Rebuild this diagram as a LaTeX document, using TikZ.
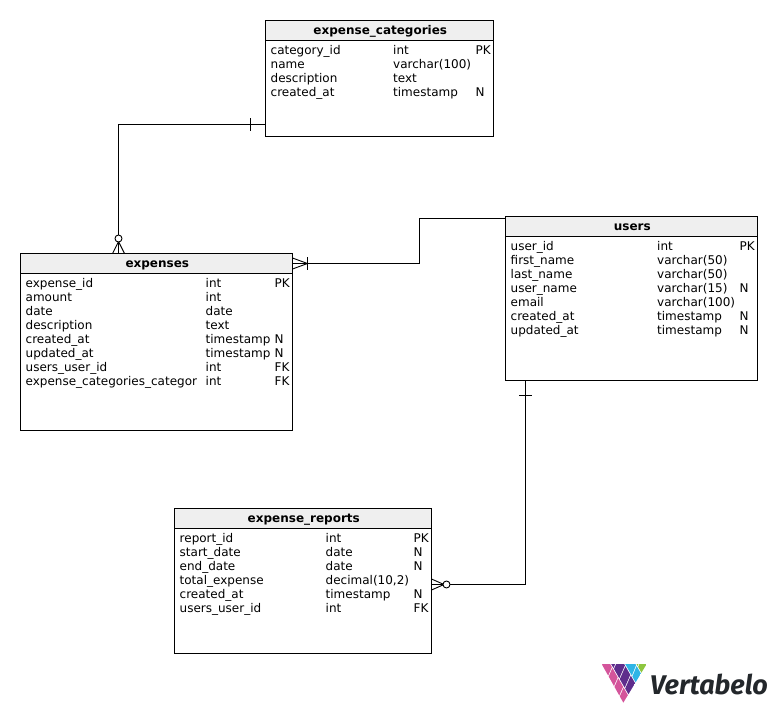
\documentclass[tikz,border=0pt]{standalone}
\usepackage{fontspec}
\setmainfont{DejaVu Sans}
\newfontfamily\logofont{Fira Sans}
\definecolor{headfill}{HTML}{EFEFEF}
\definecolor{vpink}{HTML}{D4559B}
\definecolor{vpurple}{HTML}{5E2D8C}
\definecolor{vcyan}{HTML}{2FB5E6}
\definecolor{vgreen}{HTML}{8DC63F}
\definecolor{vtext}{HTML}{23272B}
\tikzset{
  tablebox/.style={draw=black,line width=1pt,fill=white,inner sep=0pt,outer sep=0pt,anchor=north west},
  tablehead/.style={draw=black,line width=1pt,fill=headfill,inner sep=0pt,outer sep=0pt,anchor=north west,font=\fontsize{12}{14}\selectfont\bfseries},
  headtitle/.style={inner sep=0pt,anchor=base,font=\fontsize{12}{14}\selectfont\bfseries},
  celltext/.style={inner sep=0pt,anchor=base west,font=\fontsize{12}{14}\selectfont,text=black},
  conn/.style={draw=black,line width=1pt},
  notation/.style={draw=black,line width=0.9pt},
  circ/.style={draw=black,line width=0.9pt,fill=white,circle,inner sep=0pt,minimum size=7pt},
}
% name, x0, y0, x1, y1, title, colB x, colC x, rows
\newcommand{\dbtable}[9]{%
  \pgfmathsetmacro{\tw}{#4-#2}\pgfmathsetmacro{\th}{#5-#3}
  \node[tablebox,minimum width=\tw pt,minimum height=\th pt] (#1) at (#2,#3) {};
  \node[tablehead,minimum width=\tw pt,minimum height=20pt] (#1-head) at (#2,#3) {};
  \pgfmathsetmacro{\tx}{(#2+#4)/2+0.8}\pgfmathsetmacro{\ty}{#3+14.3}
  \node[headtitle] (#1-title) at (\tx,\ty) {#6};
  \foreach \ca/\cb/\cc [count=\i] in {#9}{
    \pgfmathsetmacro{\by}{#3+34.3+14*(\i-1)}
    \pgfmathsetmacro{\ax}{#2+5}
    \node[celltext] (#1-a\i) at (\ax,\by) {\ca};
    \node[celltext] (#1-b\i) at (#7,\by) {\cb};
    \node[celltext] (#1-c\i) at (#8,\by) {\cc};
  }
}
% logo lattice: point on lines c,d
\newcommand{\lp}[2]{({#2+0.57*(#1-#2)/1.17},{42+(#1-#2)/1.17})}
\newcommand{\vcell}[5]{\fill[#1] \lp{#2+1.6}{#4+1.6} -- \lp{#3-1.6}{#4+1.6} -- \lp{#3-1.6}{#5-1.6} -- \lp{#2+1.6}{#5-1.6} -- cycle;}
\begin{document}
\begin{tikzpicture}[x=1pt,y=-1pt]
\useasboundingbox (0,0) rectangle (777,713);
\dbtable{cats}{265.5}{20.5}{493.5}{136.5}{expense\_categories}{393}{475.5}{
  category\_id/int/PK, name/varchar(100)/{}, description/text/{}, created\_at/timestamp/N}
\dbtable{exps}{20.5}{253.5}{292.5}{430.5}{expenses}{205.5}{274.5}{
  expense\_id/int/PK, amount/int/{}, date/date/{}, description/text/{},
  created\_at/timestamp/N, updated\_at/timestamp/N, users\_user\_id/int/FK,
  expense\_categories\_categor/int/FK}
\dbtable{users}{505.5}{216.5}{757.5}{380.5}{users}{657}{739.5}{
  user\_id/int/PK, first\_name/varchar(50)/{}, last\_name/varchar(50)/{},
  user\_name/varchar(15)/N, email/varchar(100)/{}, created\_at/timestamp/N,
  updated\_at/timestamp/N}
\dbtable{reps}{174.5}{508.5}{431.5}{653.5}{expense\_reports}{325.5}{413.5}{
  report\_id/int/PK, start\_date/date/N, end\_date/date/N,
  total\_expense/{decimal(10,2)}/{}, created\_at/timestamp/N, users\_user\_id/int/FK}

% connector ends on table edges
\coordinate (cats-w) at (cats.west |- 0,124.5);
\coordinate (exps-n) at (exps.north -| 118.5,0);
\coordinate (users-w) at (users.west |- 0,218.5);
\coordinate (exps-e) at (exps.east |- 0,263.5);
\coordinate (users-s) at (users.south -| 525.5,0);
\coordinate (reps-e) at (reps.east |- 0,584.5);

% expense_categories -- expenses
\draw[conn] (cats-w) -| (exps-n);
\draw[notation] (250.5,118) -- (250.5,131);
\draw[notation] (118.5,241.5) -- (112.5,253.5) (118.5,241.5) -- (124.5,253.5);
\node[circ] (c1) at (118.5,238.5) {};
% users -- expenses
\draw[conn] (users-w) -- (419.5,218.5) -- (419.5,263.5) -- (exps-e);
\draw[notation] (307.5,257) -- (307.5,270);
\draw[notation] (307.5,263.5) -- (292.5,258) (307.5,263.5) -- (292.5,269);
% users -- expense_reports
\draw[conn] (users-s) |- (reps-e);
\draw[notation] (519,395.5) -- (532,395.5);
\draw[notation] (444,584.5) -- (431.5,579) (444,584.5) -- (431.5,590);
\node[circ] (c2) at (446.5,584.5) {};

% logo
\begin{scope}[shift={(590,650)},x=0.3333pt,y=-0.3333pt]
\clip (35,42) -- (170,42) -- (100,158) -- cycle;
\vcell{vpink}{35}{76}{20}{62}
\vcell{vpink}{76}{112}{20}{62}
\vcell{vpink}{112}{145}{20}{62}
\vcell{vpink}{145}{175}{20}{62}
\vcell{vpurple}{40}{76}{62}{104}
\vcell{vpurple}{76}{112}{62}{104}
\vcell{vpurple}{112}{145}{62}{104}
\vcell{vpurple}{145}{175}{62}{104}
\vcell{vcyan}{76}{145}{104}{138}
\vcell{vcyan}{145}{175}{104}{138}
\vcell{vgreen}{100}{145}{138}{175}
\vcell{vgreen}{145}{175}{138}{175}
\end{scope}
\node[inner sep=0pt,anchor=base west,text=vtext,font=\logofont\fontsize{27}{27}\selectfont\bfseries\itshape] (logo) at (650,694) {Vertabelo};
\end{tikzpicture}
\end{document}
